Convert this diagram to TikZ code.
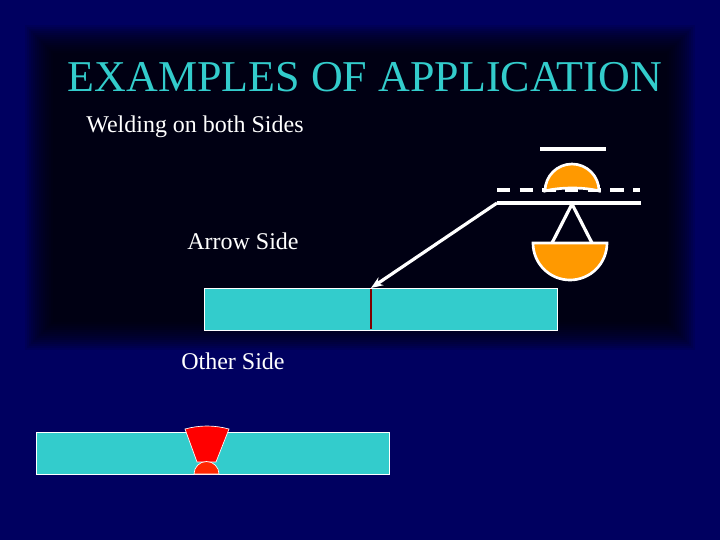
\documentclass[tikz,border=0pt]{standalone}
\usepackage{fontspec}
\usetikzlibrary{arrows.meta}
\setmainfont{Liberation Serif}
\begin{document}
\begin{tikzpicture}[x=0.75pt,y=-0.75pt,
  plate/.style={draw=white, line width=0.6pt},
  wl/.style={draw=white, line width=2.4pt},
  lbl/.style={text=white, font=\fontsize{18}{22}\selectfont, anchor=west, inner sep=0}]
\definecolor{navy}{RGB}{0,0,96}
\definecolor{plc}{RGB}{51,204,204}
\definecolor{orng}{RGB}{255,153,0}
\useasboundingbox (0,0) rectangle (720,540);
\fill[navy] (0,0) rectangle (720,540);
\foreach \i in {0,...,14}{
  \fill[black, opacity=0.09] (25+2*\i,25+2*\i) rectangle (695-2*\i,350-2*\i);
}
\node[text=plc, font=\fontsize{33}{40}\selectfont] (title) at (365,77) {EXAMPLES OF APPLICATION};
\node[lbl] (t1) at (86,127) {Welding on both Sides};
\node[lbl] (t2) at (187,241) {Arrow Side};
\node[lbl] (t3) at (181,361) {Other Side};
% plate 1
\node[plate, fill=plc, minimum width=265pt, minimum height=31.5pt, inner sep=0, anchor=north west] (p1) at (204,288) {};
\draw[red!50!black, line width=2pt] (371,289) -- (371,329);
\coordinate (tip) at (371,288);
% plate 2
\node[plate, fill=plc, minimum width=265pt, minimum height=31.5pt, inner sep=0, anchor=north west] (p2) at (36,432) {};
\fill[red, draw=white, line width=0.5pt] (185,429) .. controls (200,425) and (214,425) .. (229,429) -- (216,462) -- (197,462) -- cycle;
\fill[red!70!orange, draw=white, line width=0.5pt] (194,474) arc[start angle=180,end angle=360,radius=12.5] -- cycle;
% symbol
\draw[wl] (540,149) -- (606,149);
\draw[wl, dash pattern=on 10pt off 7pt] (497,190) -- (640,190);
\coordinate (ref) at (497,203);
\draw[wl] (641,203) -- (ref);
\draw[wl, -{Stealth[length=9pt,width=7pt]}] (ref) -- (tip);
\fill[orng, draw=white, line width=2pt] (545,191) arc[start angle=180,end angle=360,radius=27] .. controls (585,187) and (560,187) .. cycle;
\draw[wl] (572,204) -- (552,243);
\draw[wl] (572,204) -- (592,243);
\fill[orng, draw=white, line width=2pt] (533,243) arc[start angle=180,end angle=0,radius=37] -- cycle;
\end{tikzpicture}
\end{document}
